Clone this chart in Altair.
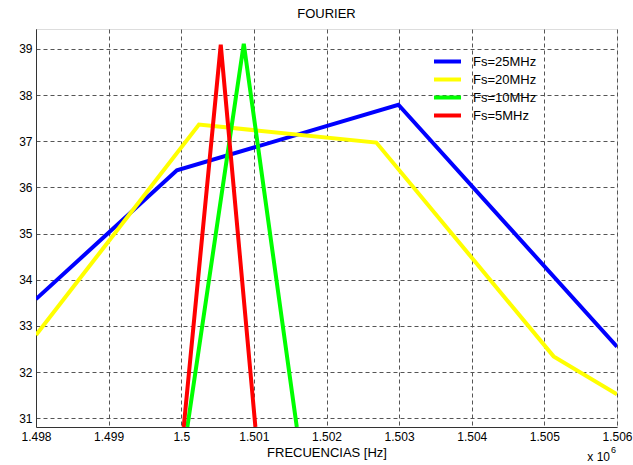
import altair as alt
import pandas as pd

series = ["Fs=25MHz", "Fs=20MHz", "Fs=10MHz", "Fs=5MHz"]
colors = ["#0000FF", "#FFFF00", "#00FF00", "#FF0000"]

# frequencies in units of 10^6 Hz, amplitude values
blue_x = [1.498, 1.49994, 1.50299, 1.506]
blue_y = [33.58, 36.37, 37.79, 32.55]
yellow_x = [1.498, 1.500244, 1.502686, 1.505127, 1.506]
yellow_y = [32.80, 37.36, 36.97, 32.34, 31.52]
green_x = [1.500084, 1.500861, 1.501591]
green_y = [30.81, 39.11, 30.81]
red_x = [1.500034, 1.500544, 1.501021]
red_y = [30.81, 39.09, 30.81]

x_ticks = [1.498, 1.499, 1.5, 1.501, 1.502, 1.503, 1.504, 1.505, 1.506]
y_ticks = [31, 32, 33, 34, 35, 36, 37, 38, 39]

rows = []
for name, xs, ys in zip(series, [blue_x, yellow_x, green_x, red_x], [blue_y, yellow_y, green_y, red_y]):
    for i, (x, y) in enumerate(zip(xs, ys)):
        rows.append({"serie": name, "f": x, "a": y, "o": i})
df = pd.DataFrame(rows)

FONT = "Liberation Sans"
xscale = alt.Scale(domain=[1.498, 1.506], nice=False, zero=False)
yscale = alt.Scale(domain=[30.81, 39.43], nice=False, zero=False)

color = alt.Color(
    "serie:N",
    scale=alt.Scale(domain=series, range=colors),
    sort=series,
    legend=alt.Legend(
        title=None, orient="none", legendX=402, legendY=23,
        symbolType="M-1.8,0H1.8", symbolStrokeWidth=4, symbolSize=225,
        labelFont=FONT, labelFontSize=13, labelColor="black",
        padding=0, rowPadding=0, labelOffset=16,
    ),
)

xaxis = alt.Axis(
    values=x_ticks, labelExpr="format(datum.value, '.3~f')",
    title="FRECUENCIAS [Hz]", titleFont=FONT, titleFontSize=13, titleFontWeight="normal",
    titleColor="black", titlePadding=4,
    labelFont=FONT, labelFontSize=12, labelColor="black", labelPadding=4,
    tickSize=0, grid=True, gridDash=[4, 3], gridColor="#555555", gridOpacity=1,
    domainColor="#333333", labelFlush=False,
)
yaxis = alt.Axis(
    values=y_ticks, title=None,
    labelFont=FONT, labelFontSize=12, labelColor="black", labelPadding=4,
    tickSize=0, grid=True, gridDash=[4, 3], gridColor="#555555", gridOpacity=1,
    domainColor="#333333",
)

layers = []
for s in series:
    layers.append(
        alt.Chart(df)
        .transform_filter(alt.datum.serie == s)
        .mark_line(strokeWidth=4, clip=True)
        .encode(
            x=alt.X("f:Q", scale=xscale, axis=xaxis),
            y=alt.Y("a:Q", scale=yscale, axis=yaxis),
            color=color,
            order="o:Q",
        )
    )

note = pd.DataFrame({"t": ["x 10"], "e": ["6"]})
note_main = alt.Chart(note).mark_text(
    x=574, y=428, align="right", baseline="middle", font=FONT, fontSize=12, color="black"
).encode(text="t:N")
note_exp = alt.Chart(note).mark_text(
    x=575, y=421, align="left", baseline="middle", font=FONT, fontSize=9, color="black"
).encode(text="e:N")

chart = alt.layer(*layers, note_main, note_exp).properties(
    width=581, height=398,
    title=alt.TitleParams("FOURIER", font=FONT, fontSize=13, fontWeight="normal", color="black", offset=8),
    autosize=alt.AutoSizeParams(type="none"),
    padding={"left": 36, "top": 29, "right": 16, "bottom": 38},
).configure_view(stroke="#999999", strokeWidth=1).configure(background="white")

chart.save("out.html", embed_options={"renderer": "svg", "actions": False})
